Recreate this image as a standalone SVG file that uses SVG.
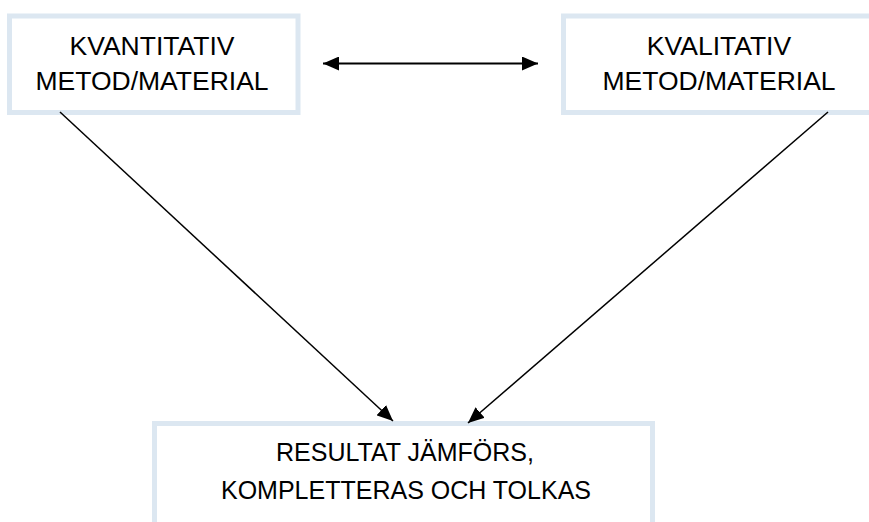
<svg xmlns="http://www.w3.org/2000/svg" width="869" height="522" viewBox="0 0 869 522">
<style>
.box{fill:#ffffff;stroke:#dce7f1;stroke-width:5}
.t{font-family:"Liberation Sans",Arial,sans-serif;font-size:26.5px;fill:#000;text-anchor:middle}
.b{font-size:25px}
.c{stroke:#000;fill:none}
</style>
<defs>
<marker id="ah" markerUnits="userSpaceOnUse" markerWidth="16" markerHeight="14" refX="16" refY="7" orient="auto-start-reverse">
<path d="M0,0 L16,7 L0,14 Z" fill="#000"/>
</marker>
</defs>
<rect width="869" height="522" fill="#fff"/>
<g id="node-kvantitativ">
<rect class="box" x="9.5" y="16" width="288.5" height="96.5"/>
<text class="t" x="152" y="55">KVANTITATIV</text>
<text class="t" x="152" y="90">METOD/MATERIAL</text>
</g>
<g id="node-kvalitativ">
<rect class="box" x="563.5" y="16" width="320" height="96.5"/>
<text class="t" x="719" y="55">KVALITATIV</text>
<text class="t" x="719" y="90">METOD/MATERIAL</text>
</g>
<g id="node-resultat">
<rect class="box" x="154.5" y="423.5" width="498" height="120"/>
<text class="t b" x="405" y="461">RESULTAT JÄMFÖRS,</text>
<text class="t b" x="406" y="499">KOMPLETTERAS OCH TOLKAS</text>
</g>
<g id="connectors">
<line class="c" x1="323" y1="63.5" x2="538" y2="63.5" stroke-width="2" marker-start="url(#ah)" marker-end="url(#ah)"/>
<line class="c" x1="60" y1="112" x2="393" y2="421" stroke-width="1.5" marker-end="url(#ah)"/>
<line class="c" x1="828" y1="112" x2="468" y2="423" stroke-width="1.5" marker-end="url(#ah)"/>
</g>
</svg>
